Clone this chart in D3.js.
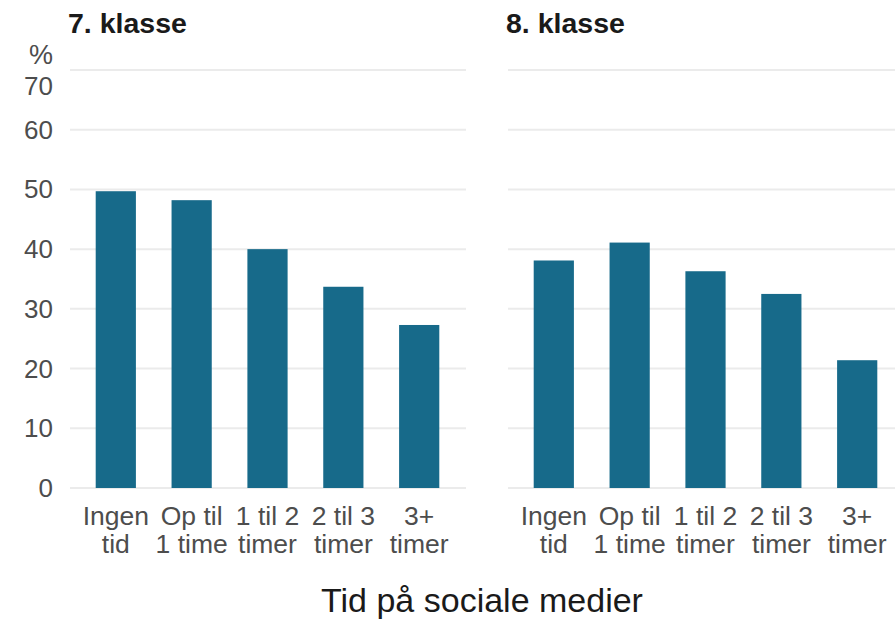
<!DOCTYPE html>
<html>
<head>
<meta charset="utf-8">
<script src="https://cdn.jsdelivr.net/npm/d3@7"></script>
<style>
  body { margin: 0; background: #fff; }
  svg { font-family: "Liberation Sans", Arial, sans-serif; }
</style>
</head>
<body>
<svg id="chart"></svg>
<script>
const categories = [["Ingen", "tid"], ["Op til", "1 time"], ["1 til 2", "timer"], ["2 til 3", "timer"], ["3+", "timer"]];
const panels = ["7. klasse", "8. klasse"];
const values7 = [49.7, 48.2, 40.0, 33.7, 27.3];
const values8 = [38.1, 41.1, 36.3, 32.5, 21.4];
const yTicks = [0, 10, 20, 30, 40, 50, 60, 70];

const width = 895, height = 619;
const svg = d3.select("#chart").attr("width", width).attr("height", height);

const y = d3.scaleLinear().domain([0, 70]).range([488, 70]);
const BAR_COLOR = "#176a8a";
const TEXT_GREY = "#4d4d4d";

const panelX = [[70, 466], [508, 904]];
const seriesList = [values7, values8];

panels.forEach(function (title, p) {
    const [x0, x1] = panelX[p];
    const g = svg.append("g");
    const x = d3.scaleBand()
        .domain(d3.range(categories.length))
        .range([x0 + 7.5, x1 - 8.5])
        .paddingInner(0.47)
        .paddingOuter(0.24);

    // grid
    g.selectAll("line.grid")
        .data(yTicks)
        .enter().append("line")
        .attr("x1", x0).attr("x2", x1)
        .attr("y1", d => y(d)).attr("y2", d => y(d))
        .attr("stroke", "#ebebeb")
        .attr("stroke-width", 2);

    g.selectAll("rect")
        .data(seriesList[p])
        .enter().append("rect")
        .attr("x", (d, i) => x(i))
        .attr("width", x.bandwidth())
        .attr("y", d => y(d))
        .attr("height", d => y(0) - y(d))
        .attr("fill", BAR_COLOR);

    // two-line category labels
    [0, 1].forEach(function (line) {
        g.selectAll("text.cat" + line)
            .data(categories)
            .enter().append("text")
            .attr("class", "cat" + line)
            .attr("x", (d, i) => x(i) + x.bandwidth() / 2)
            .attr("y", line === 0 ? 525 : 553)
            .attr("text-anchor", "middle")
            .attr("fill", TEXT_GREY)
            .attr("font-size", 26.5)
            .text(d => d[line]);
    });

    g.append("text")
        .attr("x", x0 - 2)
        .attr("y", 33)
        .attr("font-size", 28.5)
        .attr("font-weight", "bold")
        .attr("fill", "#1a1a1a")
        .text(title);
});

// y axis labels (left panel only); "70" sits lower to make room for "%"
svg.selectAll("text.ytick")
    .data(yTicks)
    .enter().append("text")
    .attr("class", "ytick")
    .attr("x", 53)
    .attr("y", d => d === 70 ? y(d) + 25 : y(d) + 9)
    .attr("text-anchor", "end")
    .attr("font-size", 26)
    .attr("fill", TEXT_GREY)
    .text(d => d);

svg.append("text")
    .attr("x", 53).attr("y", 64)
    .attr("text-anchor", "end")
    .attr("font-size", 27)
    .attr("fill", TEXT_GREY)
    .text("%");

svg.append("text")
    .attr("x", 482).attr("y", 612)
    .attr("text-anchor", "middle")
    .attr("font-size", 34)
    .attr("fill", "#1a1a1a")
    .text("Tid på sociale medier");
</script>
</body>
</html>
